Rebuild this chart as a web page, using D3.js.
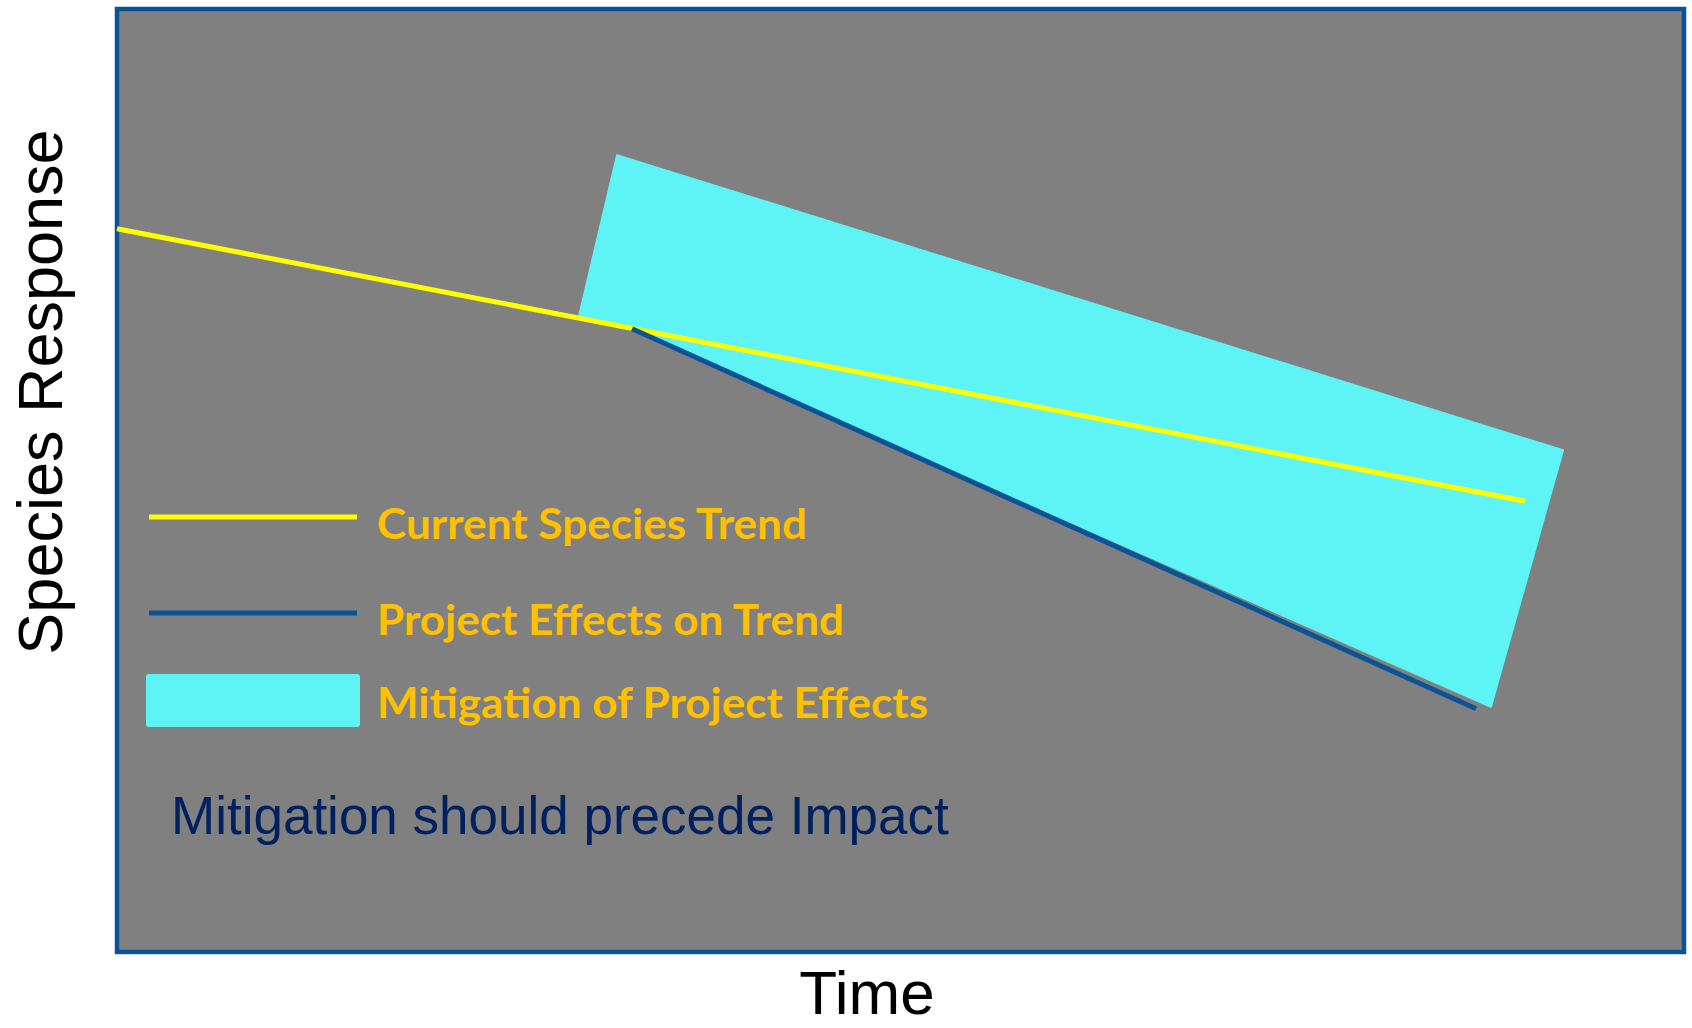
<!DOCTYPE html>
<html>
<head>
<meta charset="utf-8">
<script src="https://cdn.jsdelivr.net/npm/d3@7"></script>
<style>
  html, body { margin: 0; padding: 0; background: #ffffff; }
  svg { display: block; }
</style>
</head>
<body>
<svg id="chart" width="1692" height="1028"></svg>
<script>
// Conceptual trend diagram: time (0–100) against species response (0–100)

// Current species trend: [time, response]
const currentTrend = [[0, 76.7], [89.85, 47.8]];

// Trend once the project's effects begin
const projectTrend = [[32.87, 66.1], [86.73, 25.8]];

// Band of mitigation around the affected trend (polygon corners)
const mitigationBand = [[31.91, 84.5], [92.28, 53.2], [87.68, 26.0], [32.87, 66.0], [29.48, 67.4]];

// Legend and annotation text
const legendLabels = ["Current Species Trend", "Project Effects on Trend", "Mitigation of Project Effects"];
const note = "Mitigation should precede Impact";
const xTitle = "Time";
const yTitle = "Species Response";

const svg = d3.select("#chart");

const plot = { left: 117, right: 1684, top: 9, bottom: 952 };

const x = d3.scaleLinear().domain([0, 100]).range([plot.left, plot.right]);
const y = d3.scaleLinear().domain([0, 100]).range([plot.bottom, plot.top]);

const colors = {
  panel: "#808080",
  frame: "#0b5394",
  trend: "#ffff00",
  effect: "#0b5394",
  band: "#5ef3f5",
  legendText: "#ffc000",
  note: "#002060"
};

// Plot panel
svg.append("rect")
  .attr("x", plot.left).attr("y", plot.top)
  .attr("width", plot.right - plot.left).attr("height", plot.bottom - plot.top)
  .attr("fill", colors.panel)
  .attr("stroke", colors.frame)
  .attr("stroke-width", 4.5);

const line = d3.line().x(d => x(d[0])).y(d => y(d[1]));

// Mitigation band
svg.append("path")
  .datum(mitigationBand)
  .attr("d", d3.line().x(d => x(d[0])).y(d => y(d[1])).curve(d3.curveLinearClosed))
  .attr("fill", colors.band)
  .attr("stroke", colors.band)
  .attr("stroke-width", 2)
  .attr("stroke-linejoin", "round");

// Current trend
svg.append("path")
  .datum(currentTrend)
  .attr("d", line)
  .attr("fill", "none")
  .attr("stroke", colors.trend)
  .attr("stroke-width", 5);

// Project effects on trend
svg.append("path")
  .datum(projectTrend)
  .attr("d", line)
  .attr("fill", "none")
  .attr("stroke", colors.effect)
  .attr("stroke-width", 5);

// Legend
const legend = svg.append("g");
const legendRows = [
  { label: legendLabels[0], type: "line", color: colors.trend, y: 517, baseline: 539, len: 430 },
  { label: legendLabels[1], type: "line", color: colors.effect, y: 613, baseline: 635, len: 467 },
  { label: legendLabels[2], type: "rect", color: colors.band, y: 700, baseline: 718, len: 551 }
];

legendRows.forEach(r => {
  if (r.type === "line") {
    legend.append("line")
      .attr("x1", 149).attr("x2", 357)
      .attr("y1", r.y).attr("y2", r.y)
      .attr("stroke", r.color).attr("stroke-width", 5);
  } else {
    legend.append("rect")
      .attr("x", 146).attr("y", 674)
      .attr("width", 214).attr("height", 53)
      .attr("rx", 3)
      .attr("fill", r.color);
  }
  legend.append("text")
    .attr("x", 377).attr("y", r.baseline)
    .attr("font-family", "Lato, 'Open Sans', sans-serif")
    .attr("font-weight", 700)
    .attr("font-size", 42)
    .attr("fill", colors.legendText)
    .attr("textLength", r.len)
    .attr("lengthAdjust", "spacingAndGlyphs")
    .text(r.label);
});

// Annotation
svg.append("text")
  .attr("x", 171).attr("y", 834)
  .attr("font-family", "'Liberation Sans', Arial, sans-serif")
  .attr("font-size", 53)
  .attr("fill", colors.note)
  .text(note);

// Axis titles
svg.append("text")
  .attr("x", 867).attr("y", 1014)
  .attr("text-anchor", "middle")
  .attr("font-family", "'Liberation Sans', Arial, sans-serif")
  .attr("font-size", 62)
  .attr("fill", "#000")
  .text(xTitle);

svg.append("text")
  .attr("transform", "translate(62,392) rotate(-90)")
  .attr("text-anchor", "middle")
  .attr("font-family", "'Liberation Sans', Arial, sans-serif")
  .attr("font-size", 63)
  .attr("fill", "#000")
  .text(yTitle);
</script>
</body>
</html>
